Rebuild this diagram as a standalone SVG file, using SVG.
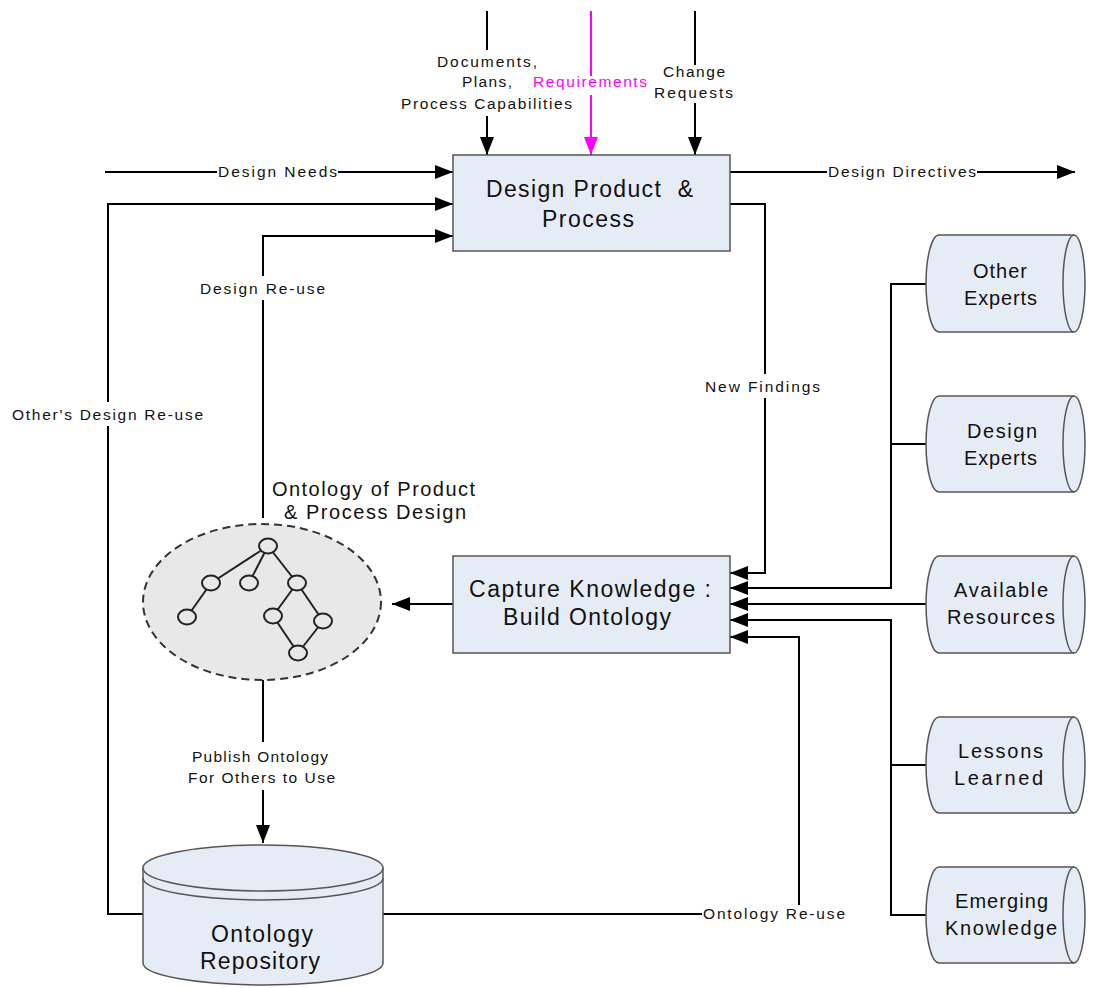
<svg xmlns="http://www.w3.org/2000/svg" width="1094" height="988" viewBox="0 0 1094 988">
  <defs>
    <marker id="arrow" viewBox="0 0 18 14" refX="18" refY="7" markerWidth="18" markerHeight="14" markerUnits="userSpaceOnUse" orient="auto">
      <path d="M0,0 L18,7 L0,14 Z" fill="#000"/>
    </marker>
    <marker id="arrowPink" viewBox="0 0 18 14" refX="18" refY="7" markerWidth="18" markerHeight="14" markerUnits="userSpaceOnUse" orient="auto">
      <path d="M0,0 L18,7 L0,14 Z" fill="#ff00ff"/>
    </marker>
    <style>
      .box { fill: #e6ecf6; stroke: #555; stroke-width: 1.5; }
      .wire { fill: none; stroke: #000; stroke-width: 2; }
      text { font-family: "Liberation Sans", Arial, sans-serif; fill: #111; }
      .lbl { font-size: 15.5px; }
      .big { font-size: 23px; white-space: pre; }
      .mid { font-size: 20px; }
    </style>
  </defs>
  <rect width="1094" height="988" fill="#fff"/>

  <!-- connectors -->
  <g id="connectors">
    <!-- top inputs -->
    <line class="wire" x1="487" y1="11" x2="487" y2="50"/>
    <line class="wire" x1="487" y1="116" x2="487" y2="155" marker-end="url(#arrow)"/>
    <line x1="591" y1="11" x2="591" y2="76" stroke="#ff00ff" stroke-width="2"/>
    <line x1="591" y1="95" x2="591" y2="155" stroke="#ff00ff" stroke-width="2" marker-end="url(#arrowPink)"/>
    <line class="wire" x1="695" y1="11" x2="695" y2="65"/>
    <line class="wire" x1="695" y1="103" x2="695" y2="155" marker-end="url(#arrow)"/>

    <!-- design needs -->
    <line class="wire" x1="105" y1="172" x2="217" y2="172"/>
    <line class="wire" x1="338" y1="172" x2="453" y2="172" marker-end="url(#arrow)"/>

    <!-- design directives -->
    <line class="wire" x1="730" y1="172" x2="827" y2="172"/>
    <line class="wire" x1="977" y1="172" x2="1075" y2="172" marker-end="url(#arrow)"/>

    <!-- other's design re-use -->
    <polyline class="wire" points="453,204 108,204 108,402"/>
    <polyline class="wire" points="108,426 108,914 143,914"/>
    <line class="wire" x1="300" y1="204" x2="453" y2="204" marker-end="url(#arrow)"/>

    <!-- design re-use -->
    <polyline class="wire" points="263,276 263,236 453,236" marker-end="url(#arrow)"/>
    <line class="wire" x1="263" y1="300" x2="263" y2="518"/>

    <!-- new findings -->
    <polyline class="wire" points="730,204 765,204 765,374"/>
    <polyline class="wire" points="765,398 765,573 730,573" marker-end="url(#arrow)"/>

    <!-- experts and sources -->
    <polyline class="wire" points="926,284 891,284 891,588 730,588" marker-end="url(#arrow)"/>
    <line class="wire" x1="926" y1="444" x2="891" y2="444"/>
    <line class="wire" x1="926" y1="604" x2="730" y2="604" marker-end="url(#arrow)"/>
    <polyline class="wire" points="926,915 891,915 891,620 730,620" marker-end="url(#arrow)"/>
    <line class="wire" x1="926" y1="765" x2="891" y2="765"/>

    <!-- ontology re-use -->
    <line class="wire" x1="383" y1="914" x2="702" y2="914"/>
    <polyline class="wire" points="799,905 799,637 730,637" marker-end="url(#arrow)"/>

    <!-- build to ontology -->
    <line class="wire" x1="453" y1="604" x2="392" y2="604" marker-end="url(#arrow)"/>

    <!-- publish -->
    <line class="wire" x1="263" y1="680" x2="263" y2="742"/>
    <line class="wire" x1="263" y1="790" x2="263" y2="843" marker-end="url(#arrow)"/>
  </g>

  <!-- connector labels -->
  <g id="labels">
    <text class="lbl" x="437" y="67" textLength="100">Documents,</text>
    <text class="lbl" x="462" y="87" textLength="50">Plans,</text>
    <text class="lbl" x="401" y="109" textLength="171">Process Capabilities</text>
    <text class="lbl" x="533" y="87" textLength="114" style="fill:#ff00ff">Requirements</text>
    <text class="lbl" x="663" y="77" textLength="62">Change</text>
    <text class="lbl" x="654" y="98" textLength="79">Requests</text>
    <text class="lbl" x="218" y="177" textLength="119">Design Needs</text>
    <text class="lbl" x="828" y="177" textLength="148">Design Directives</text>
    <text class="lbl" x="200" y="294" textLength="125">Design Re-use</text>
    <text class="lbl" x="12" y="420" textLength="191">Other's Design Re-use</text>
    <text class="lbl" x="705" y="392" textLength="115">New Findings</text>
    <text class="lbl" x="192" y="762" textLength="136">Publish Ontology</text>
    <text class="lbl" x="188" y="783" textLength="147">For Others to Use</text>
    <text class="lbl" x="703" y="919" textLength="142">Ontology Re-use</text>
  </g>

  <!-- Design Product & Process -->
  <g id="design-product">
    <rect class="box" x="453" y="155" width="277" height="96"/>
    <text class="big" x="486" y="197" textLength="207">Design Product  &amp;</text>
    <text class="big" x="542" y="227" textLength="92">Process</text>
  </g>

  <!-- Capture Knowledge -->
  <g id="capture-knowledge">
    <rect class="box" x="453" y="556" width="277" height="97"/>
    <text class="big" x="469" y="597" textLength="242">Capture Knowledge :</text>
    <text class="big" x="503" y="625" textLength="168">Build Ontology</text>
  </g>

  <!-- Ontology -->
  <g id="ontology">
    <ellipse cx="262" cy="602" rx="119" ry="78" fill="#e8e8e8" stroke="#333" stroke-width="2" stroke-dasharray="8,5"/>
    <g stroke="#222" stroke-width="2">
      <line x1="268" y1="546" x2="211" y2="583"/>
      <line x1="268" y1="546" x2="249" y2="583"/>
      <line x1="268" y1="546" x2="297" y2="583"/>
      <line x1="211" y1="583" x2="187" y2="617"/>
      <line x1="297" y1="583" x2="273" y2="616"/>
      <line x1="297" y1="583" x2="323" y2="621"/>
      <line x1="273" y1="616" x2="298" y2="653"/>
      <line x1="323" y1="621" x2="298" y2="653"/>
    </g>
    <g fill="#e8e8e8" stroke="#222" stroke-width="2">
      <ellipse cx="268" cy="546" rx="9" ry="7.5"/>
      <ellipse cx="211" cy="583" rx="9" ry="7.5"/>
      <ellipse cx="249" cy="583" rx="9" ry="7.5"/>
      <ellipse cx="297" cy="583" rx="9" ry="7.5"/>
      <ellipse cx="187" cy="617" rx="9" ry="7.5"/>
      <ellipse cx="273" cy="616" rx="9" ry="7.5"/>
      <ellipse cx="323" cy="621" rx="9" ry="7.5"/>
      <ellipse cx="298" cy="653" rx="9" ry="7.5"/>
    </g>
    <text class="mid" x="272" y="496" textLength="203">Ontology of Product</text>
    <text class="mid" x="284" y="519" textLength="182">&amp; Process Design</text>
  </g>

  <!-- Ontology Repository -->
  <g id="repository">
    <path class="box" d="M143,868 L143,963 A120,22 0 0 0 383,963 L383,868"/>
    <path fill="none" stroke="#555" stroke-width="1.5" d="M143,878 A120,22 0 0 0 383,878"/>
    <ellipse class="box" cx="263" cy="868" rx="120" ry="23"/>
    <text class="big" x="211" y="942" textLength="102">Ontology</text>
    <text class="big" x="200" y="969" textLength="120">Repository</text>
  </g>

  <!-- side stores -->
  <g id="other-experts">
    <path class="box" d="M939,235 L1074,235 A11,48.5 0 0 1 1074,332 L939,332 A13,48.5 0 0 1 939,235 Z"/>
    <path fill="none" stroke="#555" stroke-width="1.5" d="M1074,235 A11,48.5 0 0 0 1074,332"/>
    <text class="mid" x="973" y="278" textLength="54">Other</text>
    <text class="mid" x="964" y="305" textLength="73">Experts</text>
  </g>
  <g id="design-experts">
    <path class="box" d="M939,396 L1074,396 A11,48 0 0 1 1074,492 L939,492 A13,48 0 0 1 939,396 Z"/>
    <path fill="none" stroke="#555" stroke-width="1.5" d="M1074,396 A11,48 0 0 0 1074,492"/>
    <text class="mid" x="967" y="438" textLength="70">Design</text>
    <text class="mid" x="964" y="465" textLength="73">Experts</text>
  </g>
  <g id="available-resources">
    <path class="box" d="M939,556 L1074,556 A11,48.5 0 0 1 1074,653 L939,653 A13,48.5 0 0 1 939,556 Z"/>
    <path fill="none" stroke="#555" stroke-width="1.5" d="M1074,556 A11,48.5 0 0 0 1074,653"/>
    <text class="mid" x="954" y="597" textLength="94">Available</text>
    <text class="mid" x="947" y="624" textLength="108">Resources</text>
  </g>
  <g id="lessons-learned">
    <path class="box" d="M939,717 L1074,717 A11,48 0 0 1 1074,813 L939,813 A13,48 0 0 1 939,717 Z"/>
    <path fill="none" stroke="#555" stroke-width="1.5" d="M1074,717 A11,48 0 0 0 1074,813"/>
    <text class="mid" x="958" y="758" textLength="85">Lessons</text>
    <text class="mid" x="954" y="785" textLength="89">Learned</text>
  </g>
  <g id="emerging-knowledge">
    <path class="box" d="M939,867 L1074,867 A11,48 0 0 1 1074,963 L939,963 A13,48 0 0 1 939,867 Z"/>
    <path fill="none" stroke="#555" stroke-width="1.5" d="M1074,867 A11,48 0 0 0 1074,963"/>
    <text class="mid" x="955" y="908" textLength="93">Emerging</text>
    <text class="mid" x="945" y="935" textLength="112">Knowledge</text>
  </g>
</svg>
